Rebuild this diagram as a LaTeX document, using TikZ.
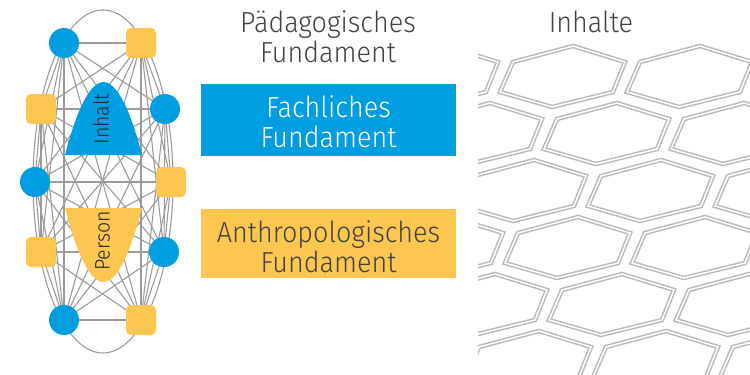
\documentclass[tikz,border=0pt]{standalone}
\usepackage{fontspec}
\setmainfont{Fira Sans Light}[FakeStretch=0.93]
\usetikzlibrary{backgrounds}
\definecolor{fachblue}{RGB}{0,158,224}
\definecolor{anthyellow}{RGB}{252,198,80}
\definecolor{edgegray}{RGB}{155,155,155}
\definecolor{hexgray}{RGB}{186,186,186}
\definecolor{textgray}{RGB}{66,66,66}
\begin{document}
\begin{tikzpicture}[x=1pt,y=-1pt,
  edge/.style={draw=edgegray, line width=1.1pt},
  bluenode/.style={circle, fill=fachblue, minimum size=30pt, inner sep=0pt},
  yellownode/.style={rectangle, rounded corners=5pt, fill=anthyellow, minimum size=30pt, inner sep=0pt},
  hexcell/.style={draw=hexgray, line width=1.5pt, double=white, double distance=1.5pt, line join=miter},
  bigtext/.style={font=\fontsize{29}{30}\selectfont, anchor=base, inner sep=0pt},
  smalltext/.style={font=\fontsize{21}{21}\selectfont, rotate=90, inner sep=0pt, text=black!85},
  fundbox/.style={rectangle, minimum width=255pt, minimum height=72pt, inner sep=0pt}
]
\useasboundingbox (0,0) rectangle (750,375);

% honeycomb of content cells
\begin{scope}
  \clip (478,0) rectangle (750,375);
  \foreach \j in {0,...,5} {
    \foreach \i in {-4,...,2} {
      \draw[hexcell, shift={({573+127*\i+44*\j},{46+57*\j})}]
        (0,0) -- (52,16) -- (40,46) -- (-21,61) -- (-73,46) -- (-60,16) -- cycle;
    }
  }
\end{scope}

% network nodes
\node[bluenode]   (c1) at (64,43)  {};
\node[yellownode] (s1) at (141,43) {};
\node[yellownode] (s2) at (41,109) {};
\node[bluenode]   (c2) at (165,109) {};
\node[bluenode]   (c3) at (35,182) {};
\node[yellownode] (s3) at (171,182) {};
\node[yellownode] (s4) at (41,252) {};
\node[bluenode]   (c4) at (164,252) {};
\node[bluenode]   (c5) at (64,320) {};
\node[yellownode] (s5) at (141,320) {};

% every node is linked with every other one
\begin{scope}[on background layer]
  \draw[edge] (103,181.5) ellipse [x radius=70pt, y radius=171.5pt];
  \foreach \a [count=\i] in {c1,s1,s2,c2,c3,s3,s4,c4,c5,s5} {
    \foreach \b [count=\j] in {c1,s1,s2,c2,c3,s3,s4,c4,c5,s5} {
      \ifnum\j>\i \draw[edge] (\a.center) -- (\b.center);\fi
    }
  }
\end{scope}

% content and person shapes
\fill[fachblue] (65,155) parabola bend (103.5,82) (142,155) -- cycle;
\fill[anthyellow] (65,208) -- (142,208) parabola bend (103.5,282) (65,208) -- cycle;
\node[smalltext] (inhalt) at (101,119) {Inhalt};
\node[smalltext] (person) at (102.5,241) {Person};

% foundations
\node[bigtext, text=textgray] (pad1) at (328,32) {Pädagogisches};
\node[bigtext, text=textgray] (pad2) at (328,62) {Fundament};

\node[fundbox, fill=fachblue] (fach) at (328.5,120) {};
\node[bigtext, text=white] (fach1) at (328.5,117) {Fachliches};
\node[bigtext, text=white] (fach2) at (328.5,147) {Fundament};

\node[fundbox, fill=anthyellow, minimum height=69pt] (anth) at (328.5,243.5) {};
\node[bigtext, text=textgray] (anth1) at (328.5,242) {Anthropologisches};
\node[bigtext, text=textgray] (anth2) at (328.5,272) {Fundament};

\node[bigtext, text=textgray] (inhalte) at (591,32) {Inhalte};
\end{tikzpicture}
\end{document}
